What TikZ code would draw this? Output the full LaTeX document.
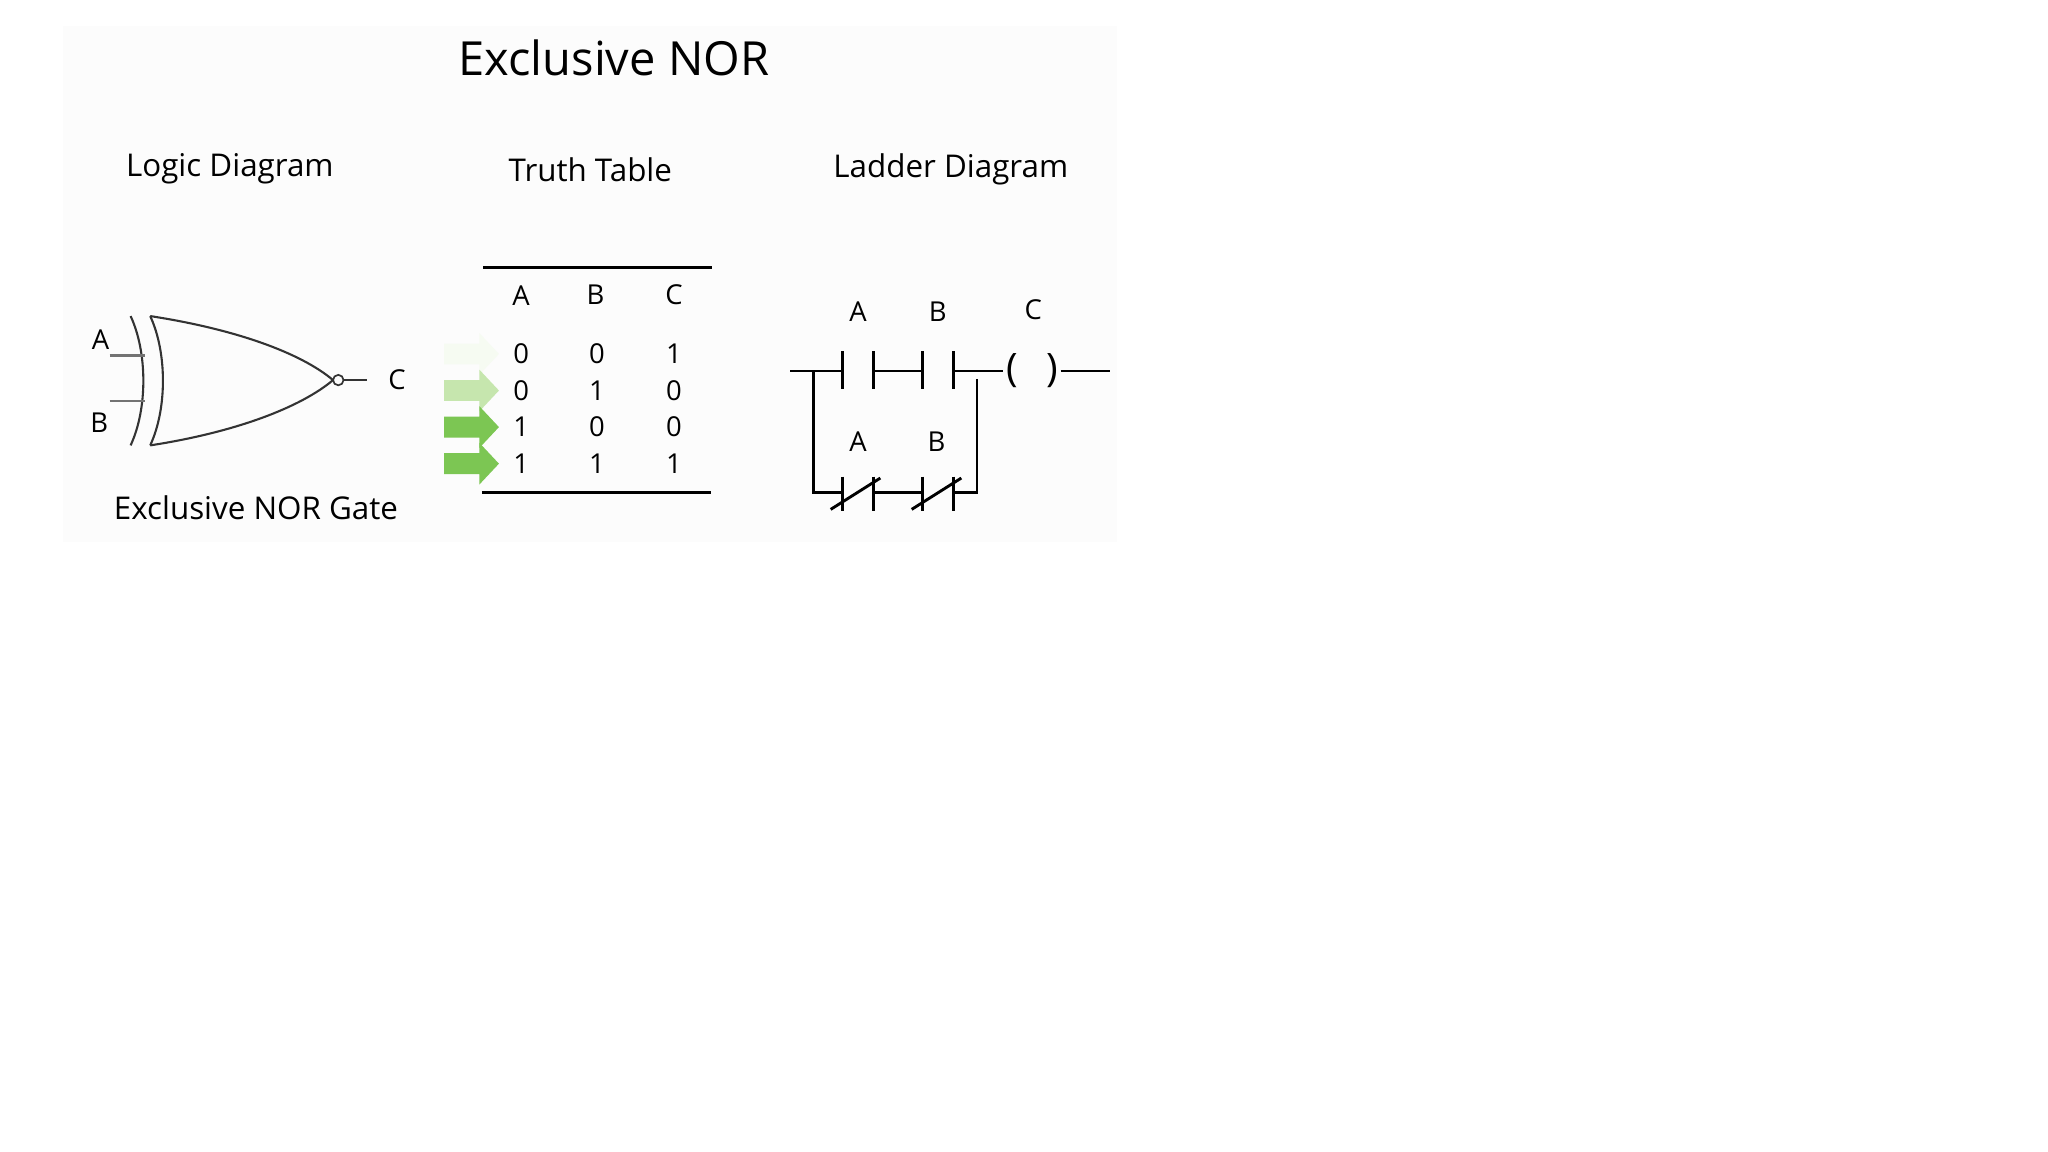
\documentclass[tikz,border=0pt]{standalone}
\usepackage{fontspec}
\setmainfont{Open Sans}
\definecolor{gA}{HTML}{7CC653}
\definecolor{gB}{HTML}{C6E6AE}
\definecolor{gC}{HTML}{F6FBF2}
\begin{document}
\begin{tikzpicture}[x=1pt,y=-1pt,
  lbl/.style={font=\fontsize{24}{26}\selectfont, inner sep=0pt},
  small/.style={font=\fontsize{21}{23}\selectfont, inner sep=0pt},
  gate/.style={draw=black!80, line width=1.6pt},
  wire/.style={draw=black!55, line width=2pt},
  lad/.style={draw=black, line width=2.2pt}]
\useasboundingbox (0,0) rectangle (1568,882);
\fill[black!1] (48,20) rectangle (855,415);
\node[font=\fontsize{36}{40}\selectfont, inner sep=0pt] (title) at (470,44) {Exclusive NOR};
\node[lbl] (ld) at (176,129) {Logic Diagram};
\node[lbl] (tt) at (452,130) {Truth Table};
\node[lbl] (lad) at (728,130) {Ladder Diagram};
% gate
\draw[gate] (115,242) .. controls (128,270) and (128,313) .. (115,341);
\draw[gate] (100,242) .. controls (113,270) and (113,313) .. (100,341);
\draw[gate] (115,242) .. controls (180,252) and (230,270) .. (255,291);
\draw[gate] (115,341) .. controls (180,331) and (230,312) .. (255,291);
\draw[gate,line width=1.3pt] (259,291) circle (4);
\draw[gate] (263,291) -- (281,291);
\draw[wire] (84,272) -- (111,272);
\draw[wire] (84,307) -- (111,307);
\node[small] (ia) at (77,260) {A};
\node[small] (ib) at (76,324) {B};
\node[small] (oc) at (304,291) {C};
\node[lbl] (gn) at (196,389) {Exclusive NOR Gate};
% table
\draw[line width=2.6pt] (370,205) -- (545,205);
\draw[line width=2.6pt] (369,377) -- (544,377);
\node[small] at (399,226) {A};
\node[small] at (456,226) {B};
\node[small] at (516,226) {C};
\foreach \y/\a/\b/\c in {271/0/0/1,299/0/1/0,327/1/0/0,355/1/1/1}{
  \node[small] at (399,\y) {\a};
  \node[small] at (457,\y) {\b};
  \node[small] at (516,\y) {\c};
}
\foreach \y/\col in {271/gC, 299/gB, 327/gA, 355/gA}{
  \fill[\col] (340,\y-8) -- (367,\y-8) -- (367,\y-16) -- (382,\y) -- (367,\y+16) -- (367,\y+8) -- (340,\y+8) -- cycle;
}
% ladder
\node[small] at (657,239) {A};
\node[small] at (718,239) {B};
\node[small] at (791,237) {C};
\draw[lad] (605,284) -- (645,284);
\draw[lad] (645,269) -- (645,298);
\draw[lad] (669,269) -- (669,298);
\draw[lad] (669,284) -- (706,284);
\draw[lad] (706,269) -- (706,298);
\draw[lad] (730,269) -- (730,298);
\draw[lad] (730,284) -- (768,284);
\node[font=\fontsize{30}{32}\selectfont, inner sep=0pt] at (775,284) {(};
\node[font=\fontsize{30}{32}\selectfont, inner sep=0pt] at (806,284) {)};
\draw[lad] (812,284) -- (850,284);
\draw[lad] (623,284) -- (623,377) -- (645,377);
\draw[lad] (748,290) -- (748,377) -- (730,377);
\draw[lad] (669,377) -- (706,377);
\draw[lad] (645,365) -- (645,391);
\draw[lad] (669,365) -- (669,391);
\draw[lad] (706,365) -- (706,391);
\draw[lad] (730,365) -- (730,391);
\draw[lad] (636,390) -- (674,366);
\draw[lad] (698,390) -- (736,366);
\node[small] at (657,338) {A};
\node[small] at (717,338) {B};
\end{tikzpicture}
\end{document}
